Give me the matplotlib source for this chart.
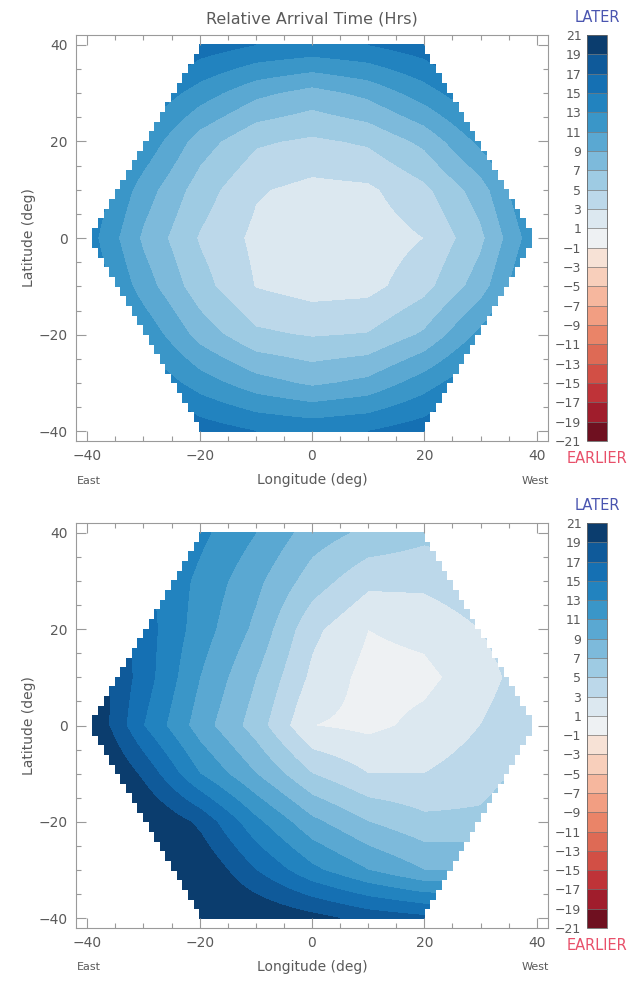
import numpy as np
import matplotlib
matplotlib.use("Agg")
import matplotlib.pyplot as plt
from matplotlib.colors import ListedColormap, BoundaryNorm
from matplotlib.ticker import MultipleLocator

# Node coordinates of the arrival-time tables (degrees)
lon_nodes = [-40, -30, -20, -10, 0, 10, 20, 30, 40]
lat_nodes = [40, 30, 20, 10, 0, -10, -20, -30, -40]   # rows, north to south

# Relative arrival time (hours) at each node, upper panel
arrival_top = [
    [22.0, 19.0, 16.2, 15.0, 14.5, 15.0, 16.2, 19.0, 22.0],
    [19.0, 15.0, 12.0,  9.5,  8.2,  9.5, 12.0, 15.0, 19.0],
    [16.0, 12.5,  8.0,  5.3,  4.6,  5.3,  7.5, 11.5, 16.0],
    [15.0, 10.0,  6.0,  3.2,  2.4,  2.6,  4.5,  8.0, 14.0],
    [14.0,  8.6,  4.8,  2.5,  1.6,  1.8,  3.0,  6.5, 12.5],
    [15.0, 10.0,  5.8,  2.9,  2.1,  2.3,  4.3,  8.0, 14.0],
    [16.0, 12.5,  8.2,  5.4,  4.8,  5.1,  7.3, 11.5, 16.0],
    [19.0, 15.0, 12.0,  9.8,  8.6,  9.5, 12.0, 15.0, 19.0],
    [22.0, 19.0, 16.2, 15.0, 14.5, 15.0, 16.2, 19.0, 22.0],
]

# Relative arrival time (hours) at each node, lower panel
arrival_bottom = [
    [18.0, 16.0, 13.5, 11.0,  8.0,  6.5,  5.5,  6.0,  8.0],
    [19.0, 15.5, 12.5,  9.5,  6.0,  3.5,  3.5,  4.5,  6.0],
    [20.0, 16.0, 12.0,  8.5,  3.5,  1.0,  1.5,  3.0,  5.0],
    [21.0, 16.0, 11.0,  7.0,  2.5,  0.3,  0.5,  2.0,  4.5],
    [21.5, 15.0, 10.0,  6.0,  1.0,  0.5,  1.5,  3.0,  5.0],
    [23.0, 18.5, 13.0,  9.0,  5.0,  3.0,  3.0,  4.0,  6.0],
    [24.0, 21.5, 18.5, 13.5,  9.5,  7.0,  5.5,  5.5,  7.0],
    [25.0, 23.5, 21.0, 17.0, 13.5, 11.0,  9.0,  9.0, 10.0],
    [26.0, 24.0, 22.0, 21.0, 19.7, 18.3, 17.5, 17.0, 17.0],
]

# Contour boundaries and colour of each band (from -21..-19 up to 19..21)
levels = list(range(-21, 22, 2))
band_colors = [
    "#6f1020", "#a01d2c", "#bf3338", "#d24f45", "#de6a55",
    "#ea8468", "#f29e82", "#f6b79e", "#f8cfbb", "#f7e2d6",
    "#eef1f3",
    "#dce8f0", "#bcd8ea", "#9ecbe3", "#7dbadb", "#5aa8d2",
    "#3a96c8", "#2283bf", "#1570b3", "#0f5a9a", "#0b3d6e",
]

# Hexagonal footprint of the observed region
hex_half_width_top = 20
hex_half_height = 40
hex_tip = 40

cmap = ListedColormap(band_colors)

GRAY = "#5a5a5a"
FRAME = "#9a9a9a"
MINUS = "\u2212"


def sample_field(table):
    """Bilinear resampling of a node table onto a fine grid, masked to the hexagon."""
    tbl = np.array(table)[::-1]                 # south to north
    lat_inc = np.array(lat_nodes)[::-1]
    lon_f = np.arange(-40, 40.01, 1.0)
    lat_f = np.arange(-40, 40.01, 2.0)
    rows = np.array([np.interp(lon_f, lon_nodes, r) for r in tbl])
    field = np.array([np.interp(lat_f, lat_inc, rows[:, j]) for j in range(lon_f.size)]).T
    LON, LAT = np.meshgrid(lon_f, lat_f)
    limit = hex_half_width_top + (hex_half_height - np.abs(LAT)) * (hex_tip - hex_half_width_top) / hex_half_height
    outside = (np.abs(LON) > limit + 1e-9) | (np.abs(LAT) > hex_half_height)
    field = np.clip(field, levels[0] + 0.01, levels[-1] - 0.01)
    return LON, LAT, np.ma.masked_where(outside, field)


def fmt(v):
    return str(v).replace("-", MINUS)


def style_axes(ax):
    ax.set_xlim(-42, 42)
    ax.set_ylim(-42, 42)
    ticks = [-40, -20, 0, 20, 40]
    ax.set_xticks(ticks)
    ax.set_yticks(ticks)
    ax.set_xticklabels([fmt(t) for t in ticks])
    ax.set_yticklabels([fmt(t) for t in ticks])
    ax.xaxis.set_minor_locator(MultipleLocator(5))
    ax.yaxis.set_minor_locator(MultipleLocator(5))
    ax.tick_params(which="both", direction="in", top=True, right=True,
                   color=FRAME, labelcolor=GRAY, labelsize=10, width=0.8)
    ax.tick_params(which="major", length=7, pad=6)
    ax.tick_params(which="minor", length=3.5)
    for s in ax.spines.values():
        s.set_color(FRAME)
        s.set_linewidth(0.8)
    ax.set_ylabel("Latitude (deg)", color=GRAY, fontsize=10, labelpad=2)
    ax.text(0.027, -0.085, "East", transform=ax.transAxes, ha="center", va="top",
            color=GRAY, fontsize=8)
    ax.text(0.973, -0.085, "West", transform=ax.transAxes, ha="center", va="top",
            color=GRAY, fontsize=8)
    ax.text(0.5, -0.08, "Longitude (deg)", transform=ax.transAxes, ha="center", va="top",
            color=GRAY, fontsize=10)


fig = plt.figure(figsize=(6.3, 9.81), dpi=100)

panels = [
    (arrival_top, [76 / 630, 1 - 441 / 981, 472 / 630, 406 / 981],
     [587 / 630, 1 - 441 / 981, 20 / 630, 406 / 981]),
    (arrival_bottom, [76 / 630, 1 - 928 / 981, 472 / 630, 405 / 981],
     [587 / 630, 1 - 928 / 981, 20 / 630, 405 / 981]),
]

for i, (table, ax_rect, cb_rect) in enumerate(panels):
    ax = fig.add_axes(ax_rect)
    LON, LAT, Z = sample_field(table)
    norm = BoundaryNorm(levels, cmap.N)
    cs = ax.contourf(LON, LAT, Z, levels=levels, cmap=cmap, norm=norm,
                     corner_mask=False)
    style_axes(ax)
    if i == 0:
        ax.set_title("Relative Arrival Time (Hrs)", color=GRAY, fontsize=11.5, pad=8)

    cax = fig.add_axes(cb_rect)
    cb = fig.colorbar(cs, cax=cax, drawedges=True, ticklocation="left")
    cb.set_ticks(levels)
    cb.set_ticklabels([fmt(v) for v in levels])
    cb.outline.set_edgecolor("#666666")
    cb.outline.set_linewidth(0.6)
    cb.dividers.set_color("#777777")
    cb.dividers.set_linewidth(0.5)
    cax.tick_params(axis="y", which="both", length=0, pad=4, labelsize=9,
                    labelcolor=GRAY)
    cax.text(0.5, 1.025, "LATER", transform=cax.transAxes, ha="center", va="bottom",
             color="#4a55b0", fontsize=10.5)
    cax.text(0.5, -0.025, "EARLIER", transform=cax.transAxes, ha="center", va="top",
             color="#e8506a", fontsize=10.5)

fig.savefig("out.png", dpi=100, facecolor="white")
